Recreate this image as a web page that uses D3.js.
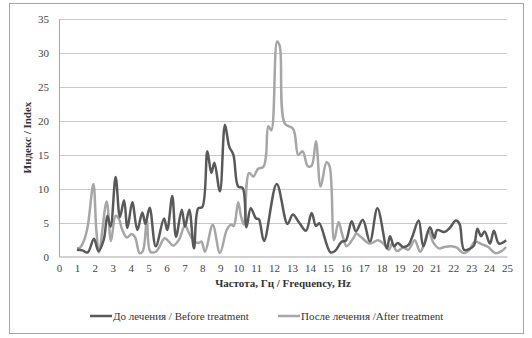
<!DOCTYPE html>
<html><head><meta charset="utf-8">
<script src="https://cdn.jsdelivr.net/npm/d3@7"></script>
<style>body{margin:0;background:#fff}svg{display:block}</style>
</head><body><svg id="c" width="532" height="338"></svg>
<script>
const xTicks = d3.range(0, 26);
const yTicks = [0, 5, 10, 15, 20, 25, 30, 35];
const seriesNames = ["До лечения / Before treatment", "После лечения /After treatment"];
const beforeFreq = [1.0,1.3,1.6,1.95,2.2,2.5,2.7,2.88,3.16,3.4,3.63,3.82,4.09,4.37,4.65,4.82,5.06,5.4,5.86,6.04,6.32,6.53,6.85,7.03,7.27,7.53,7.77,8.0,8.28,8.5,8.67,8.98,9.26,9.5,9.73,10.0,10.25,10.46,10.7,11.0,11.15,11.44,12.15,12.75,13.05,13.4,13.78,14.1,14.34,14.52,15.15,15.4,15.78,16.0,16.33,16.57,16.95,17.35,17.77,18.3,18.47,18.7,18.9,19.2,19.5,19.7,20.07,20.33,20.7,20.95,21.1,21.5,21.8,22.15,22.35,22.6,22.9,23.15,23.35,23.55,23.75,24.05,24.27,24.55,24.95];
const beforeVal = [1.0,0.9,0.6,2.6,0.8,2.5,6.0,4.4,11.7,5.8,8.3,4.2,8.0,3.9,6.5,4.8,7.2,1.5,5.6,3.9,8.9,2.9,6.9,4.4,6.9,1.2,7.1,7.3,15.5,12.3,13.8,9.6,19.4,16.2,15.0,10.3,10.1,4.3,7.1,5.6,5.5,2.3,10.7,4.8,6.2,5.0,3.8,6.4,4.5,4.9,0.6,0.8,2.2,2.3,5.2,3.7,5.4,2.2,7.1,1.2,3.0,1.5,2.0,1.4,1.7,2.8,5.3,1.5,4.3,2.7,3.9,3.6,4.2,5.3,4.8,1.0,1.1,1.6,4.1,3.0,3.7,1.9,3.8,1.9,2.4];
const afterFreq = [1.0,1.17,1.4,1.6,1.92,2.08,2.23,2.66,2.9,3.16,3.35,3.52,3.78,4.06,4.25,4.5,4.68,4.9,5.1,5.4,5.6,5.9,6.38,6.7,7.03,7.25,7.55,7.8,7.95,8.15,8.58,8.98,9.36,9.6,9.75,10.0,10.15,10.32,10.6,10.85,11.1,11.4,11.55,11.68,11.85,12.17,12.32,12.6,13.07,13.35,13.6,13.88,14.1,14.34,14.6,14.93,15.1,15.35,15.6,15.8,16.05,16.4,16.6,16.8,17.36,17.8,18.1,18.4,18.6,18.85,19.2,19.5,19.85,20.15,20.35,20.62,20.9,21.2,21.5,21.9,22.2,22.56,22.9,23.2,23.6,23.95,24.35,24.7,24.95];
const afterVal = [1.2,1.3,2.4,4.4,10.7,4.0,0.6,8.1,2.3,6.0,5.5,4.0,2.8,3.3,2.8,0.5,0.8,5.3,0.7,0.7,1.4,2.7,1.6,2.5,4.6,3.5,2.2,2.0,2.2,0.7,4.65,0.5,3.9,4.7,4.5,8.0,6.0,4.7,12.3,11.8,12.9,13.2,14.8,19.2,18.6,31.7,31.0,19.6,18.8,15.0,15.5,13.3,13.4,17.0,10.3,13.9,13.3,2.4,5.1,3.3,1.5,2.6,3.4,3.0,1.9,2.4,1.9,1.0,1.9,0.8,1.3,1.0,2.4,0.7,1.6,3.8,2.0,1.2,1.4,1.5,1.3,0.5,1.0,2.2,1.8,1.4,0.5,0.8,1.4];

const svg = d3.select("#c");
const W = 532, H = 338;
const m = {left: 59, right: 25, top: 19, bottom: 82};
const x = d3.scaleLinear().domain([0, 25]).range([m.left, 507]);
const y = d3.scaleLinear().domain([0, 35]).range([256.5, 19]);
const font = "'Liberation Serif', 'Times New Roman', serif";

svg.append("rect").attr("x", 9.5).attr("y", 3.5).attr("width", 514).attr("height", 330)
  .attr("fill", "#fff").attr("stroke", "#a6a6a6").attr("stroke-width", 1);

// grid
svg.append("g").selectAll("line").data(yTicks.filter(d => d > 0)).join("line")
  .attr("x1", x(0)).attr("x2", x(25))
  .attr("y1", d => Math.round(y(d)) + 0.5).attr("y2", d => Math.round(y(d)) + 0.5)
  .attr("stroke", "#c8c8c8").attr("stroke-width", 1);

// axes
const yAxis = svg.append("g").attr("transform", `translate(${x(0)},0)`)
  .call(d3.axisLeft(y).tickValues(yTicks).tickSize(0).tickPadding(10));
const xAxis = svg.append("g").attr("transform", `translate(0,${y(0)})`)
  .call(d3.axisBottom(x).tickValues(xTicks).tickSize(0).tickPadding(8));
[xAxis, yAxis].forEach(g => {
  g.select(".domain").attr("stroke", "#a6a6a6");
  g.selectAll("text").attr("font-family", font).attr("font-size", 11).attr("fill", "#444");
});

// lines
const line = d3.line().x(d => x(d[0])).y(d => y(d[1])).curve(d3.curveCatmullRom.alpha(0.5));
const data = [
  {pts: afterFreq.map((f, i) => [f, afterVal[i]]), color: "#a6a6a6"},
  {pts: beforeFreq.map((f, i) => [f, beforeVal[i]]), color: "#595959"}
];
svg.append("g").selectAll("path").data(data).join("path")
  .attr("d", d => line(d.pts)).attr("fill", "none")
  .attr("stroke", d => d.color).attr("stroke-width", 2.5).attr("stroke-linejoin", "round");

// titles
svg.append("text").attr("x", 283).attr("y", 287).attr("text-anchor", "middle")
  .attr("font-family", font).attr("font-size", 11).attr("font-weight", "bold").attr("fill", "#333")
  .text("Частота, Гц / Frequency, Hz");
svg.append("text").attr("transform", "translate(31,137.5) rotate(-90)").attr("text-anchor", "middle")
  .attr("font-family", font).attr("font-size", 11).attr("font-weight", "bold").attr("fill", "#333")
  .text("Индекс / Index");

// legend
const leg = [
  {name: seriesNames[0], color: "#595959", x0: 90},
  {name: seriesNames[1], color: "#a6a6a6", x0: 278}
];
const lg = svg.append("g").selectAll("g").data(leg).join("g")
  .attr("transform", d => `translate(${d.x0},316)`);
lg.append("line").attr("x1", 0).attr("x2", 22).attr("y1", 0).attr("y2", 0)
  .attr("stroke", d => d.color).attr("stroke-width", 2.5);
lg.append("text").attr("x", 23).attr("y", 4).attr("font-family", font).attr("font-size", 11)
  .attr("fill", "#333").text(d => d.name);
</script></body></html>
